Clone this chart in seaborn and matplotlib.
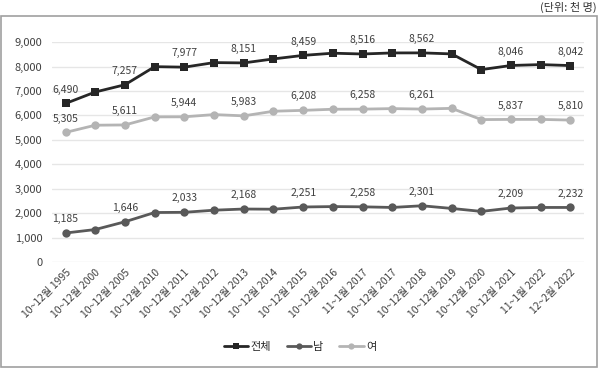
import matplotlib
matplotlib.use("Agg")
import matplotlib.pyplot as plt
import numpy as np
import pandas as pd
import seaborn as sns
from matplotlib.patches import Rectangle

sns.set_theme(style="white")
plt.rcParams["font.family"] = ["Noto Sans CJK KR", "DejaVu Sans"]

# data (unit: thousand persons)
periods = [
    "10~12월 1995", "10~12월 2000", "10~12월 2005", "10~12월 2010",
    "10~12월 2011", "10~12월 2012", "10~12월 2013", "10~12월 2014",
    "10~12월 2015", "10~12월 2016", "11~1월 2017", "10~12월 2017",
    "10~12월 2018", "10~12월 2019", "10~12월 2020", "10~12월 2021",
    "11~1월 2022", "12~2월 2022",
]
total = [6490, 6960, 7257, 7997, 7977, 8164, 8151, 8315, 8459, 8549,
         8516, 8560, 8562, 8520, 7877, 8046, 8082, 8042]
male = [1185, 1328, 1646, 2025, 2033, 2120, 2168, 2160, 2251, 2268,
        2258, 2232, 2301, 2192, 2070, 2209, 2232, 2232]
female = [5305, 5600, 5611, 5940, 5944, 6035, 5983, 6172, 6208, 6254,
          6258, 6280, 6261, 6290, 5830, 5837, 5838, 5810]
series_names = ["전체", "남", "여"]
labeled_idx = [0, 2, 4, 6, 8, 10, 12, 15, 17]

df = pd.DataFrame({
    "pos": np.tile(np.arange(len(periods)), 3),
    "value": total + male + female,
    "series": np.repeat(series_names, len(periods)),
})

palette = {"전체": "#262626", "남": "#595959", "여": "#b4b4b4"}
markers = {"전체": "s", "남": "o", "여": "o"}

fig = plt.figure(figsize=(6, 3.7), dpi=100)
ax = fig.add_axes([0.087, 0.292, 0.886, 0.594])

sns.lineplot(
    data=df, x="pos", y="value", hue="series", style="series",
    markers=markers, dashes=False, palette=palette, linewidth=2,
    markersize=6, markeredgewidth=0, ax=ax,
)

for name, vals in zip(series_names, [total, male, female]):
    for i in labeled_idx:
        ax.annotate(f"{vals[i]:,}", (i, vals[i]), xytext=(0, 10),
                    textcoords="offset points", ha="center", va="center",
                    fontsize=7.5, color="#404040", annotation_clip=False)

ax.set_ylim(0, 9000)
ax.set_yticks(range(0, 9001, 1000))
ax.yaxis.set_major_formatter(matplotlib.ticker.FuncFormatter(lambda v, p: f"{int(v):,}"))
ax.set_xlim(-0.45, len(periods) - 0.55)
ax.set_xticks(range(len(periods)))
ax.set_xticklabels(periods, rotation=45, ha="right", rotation_mode="anchor")
ax.tick_params(axis="both", length=0, labelsize=7.5, colors="#404040")
ax.tick_params(axis="y", pad=7, labelsize=8)
ax.tick_params(axis="x", pad=4)
ax.grid(axis="y", color="#e6e6e6", linewidth=1)
for s in ax.spines.values():
    s.set_visible(False)
ax.set_xlabel("")
ax.set_ylabel("")

handles, labels = ax.get_legend_handles_labels()
ax.legend(handles, labels, loc="center", bbox_to_anchor=(0.5, 0.062),
          bbox_transform=fig.transFigure, ncol=3, frameon=False,
          fontsize=8, handlelength=2.2, handletextpad=0.2, columnspacing=1.4,
          markerscale=0.75)

fig.patches.append(Rectangle((0.002, 0.008), 0.993, 0.949, transform=fig.transFigure,
                             fill=False, edgecolor="#a0a0a0", linewidth=1.2))
fig.text(0.995, 0.981, "(단위: 천 명)", ha="right", va="center", fontsize=8, color="#333333")

fig.savefig("out.png", dpi=100)
